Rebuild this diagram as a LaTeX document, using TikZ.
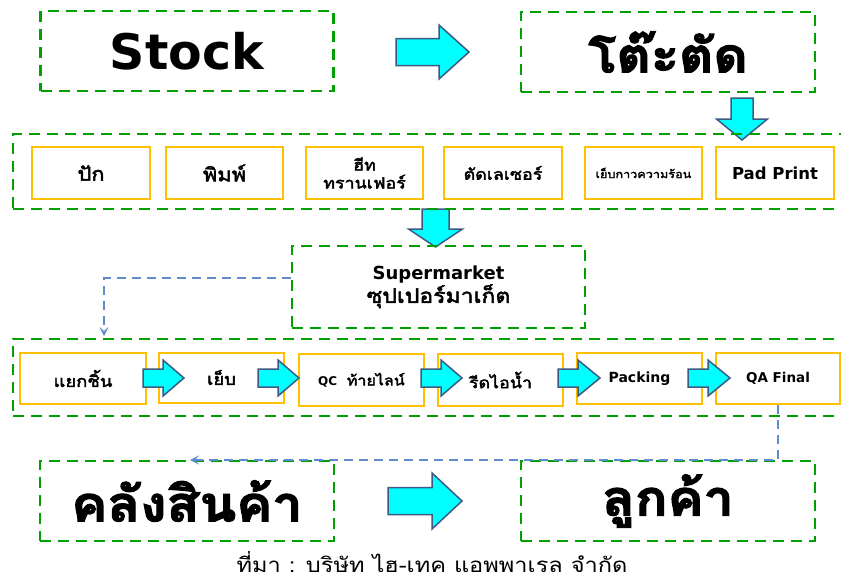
\documentclass[tikz,border=0pt]{standalone}
\usepackage{fontspec}
\setmainfont{DejaVu Sans}
\newfontfamily\thf{Loma}[Script=Thai, FakeStretch=1.15, AutoFakeBold=2.5]
\newfontfamily\thbig{Loma}[Script=Thai, FakeStretch=1.1, FakeBold=2.5]
\usetikzlibrary{calc,arrows.meta}
\definecolor{grn}{RGB}{0,160,0}
\definecolor{ylw}{RGB}{255,192,0}
\definecolor{cyanf}{RGB}{0,255,255}
\definecolor{arrb}{RGB}{60,90,130}
\definecolor{connc}{RGB}{95,140,205}
\newcommand\RArr[6]{\draw[blk] (#1,#6-#3) -- (#2,#6-#3) -- (#2,#6-#4) -- (#5,#6) -- (#2,#6+#4) -- (#2,#6+#3) -- (#1,#6+#3) -- cycle;}
\newcommand\DArr[6]{\draw[blk] (#6-#3,#1) -- (#6-#3,#2) -- (#6-#4,#2) -- (#6,#5) -- (#6+#4,#2) -- (#6+#3,#2) -- (#6+#3,#1) -- cycle;}
\newcommand\fs[1]{\fontsize{#1}{#1}\selectfont}
\tikzset{
  grp/.style={draw=grn, line width=2.3pt, dash pattern=on 11pt off 7pt, rectangle, inner sep=0pt},
  bigbox/.style={grp, font=\bfseries},
  ybox/.style={draw=ylw, line width=2pt, fill=white, inner sep=0pt, align=center, font=\bfseries},
  blk/.style={fill=cyanf, draw=arrb, line width=1.5pt, line join=miter},
  link/.style={draw=connc, line width=2pt, dash pattern=on 9pt off 6pt, -{Stealth[length=9pt,width=9pt,inset=4pt]}}
}
\begin{document}
\begin{tikzpicture}[x=1pt,y=-1pt]
\useasboundingbox (0,0) rectangle (841,581);
\clip (0,0) rectangle (841,581);
\fill[white] (0,0) rectangle (841,581);
% block arrows drawn beneath group boxes
\RArr{396}{439}{13.5}{27}{469}{52}
\DArr{98}{119}{11}{25.5}{140}{742}
\DArr{209}{229}{13.5}{27}{247}{435.5}
\RArr{388}{432}{13.5}{28}{462}{501}
% top row
\node[bigbox, minimum width=293pt, minimum height=80pt] (stock) at (187,51) {\fs{49}Stock};
\node[bigbox, minimum width=294pt, minimum height=80pt] (table) at (668,52) {\fs{48}\thbig โต๊ะตัด};
% group 1
\node[grp, minimum width=840pt, minimum height=75pt] (grp1) at (433,171.5) {};
\node[ybox, minimum width=118pt, minimum height=52pt] (pak) at (91,173) {\fs{19}\thf ปัก};
\node[ybox, minimum width=117pt, minimum height=52pt] (print) at (224.5,173) {\fs{19}\thf พิมพ์};
\node[ybox, minimum width=117pt, minimum height=52pt, font=\bfseries\thf\fontsize{15.5}{18}\selectfont] (heat) at (364.5,173) {ฮีท\\ทรานเฟอร์};
\node[ybox, minimum width=118pt, minimum height=52pt] (laser) at (503,173) {\fs{15.5}\thf ตัดเลเซอร์};
\node[ybox, minimum width=117pt, minimum height=52pt] (glue) at (643.5,173) {\fs{11}\thf เย็บกาวความร้อน};
\node[ybox, minimum width=118pt, minimum height=52pt] (pad) at (775,173) {\fs{16.5}Pad Print};
% supermarket
\node[grp, minimum width=293pt, minimum height=82pt, align=center, font=\bfseries\fontsize{18}{24}\selectfont] (super) at (438.5,287) {\raisebox{-3pt}{Supermarket}\\{\fs{20}\thf ซุปเปอร์มาเก็ต}};
% group 2
\node[grp, minimum width=840pt, minimum height=77pt] (grp2) at (433,377.5) {};
\node[ybox, minimum width=126pt, minimum height=51pt] (sep) at (83,378.5) {\fs{16}\thf แยกชิ้น};
\node[ybox, minimum width=125pt, minimum height=50pt] (sew) at (221.5,377.5) {\fs{16}\thf เย็บ};
\node[ybox, minimum width=125pt, minimum height=52pt] (qc) at (361.5,380) {\fs{12}QC {\thf\fs{14} ท้ายไลน์}};
\node[ybox, minimum width=125pt, minimum height=52pt] (iron) at (500.5,380) {\fs{15.5}\thf รีดไอน้ำ};
\node[ybox, minimum width=125pt, minimum height=51pt] (pack) at (639.5,378.5) {\fs{14}Packing};
\node[ybox, minimum width=124pt, minimum height=51pt] (qa) at (778,378.5) {\fs{13.5}QA Final};
% small block arrows
\RArr{143}{163}{9}{18}{184}{378}
\RArr{258}{278}{9}{18}{299}{378}
\RArr{421}{441}{9}{18}{462}{378}
\RArr{558}{578}{9}{18}{600}{378}
\RArr{688}{708}{9}{18}{730}{378}
% bottom row
\node[bigbox, minimum width=294pt, minimum height=80pt] (store) at (187,501) {\fs{49}\thbig คลังสินค้า};
\node[bigbox, minimum width=294pt, minimum height=80pt] (cust) at (668,501) {\fs{49}\thbig ลูกค้า};
% connectors
\coordinate (t1) at (104,336);
\coordinate (t2) at (190,460);
\draw[link] ([yshift=9pt]super.west) -| (t1);
\draw[link] (qa.south) |- (t2);
% caption
\node[anchor=base, font=\thf\fontsize{20.5}{22}\selectfont] (cap) at (432,572) {ที่มา : บริษัท ไฮ-เทค แอพพาเรล จำกัด};
\end{tikzpicture}
\end{document}
